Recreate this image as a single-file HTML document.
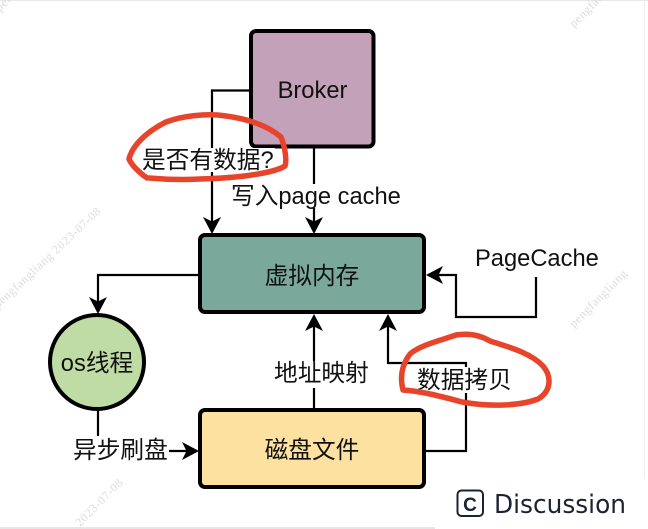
<!DOCTYPE html>
<html><head><meta charset="utf-8"><style>
html,body{margin:0;padding:0;background:#fff}
svg{display:block}
text{font-family:"Liberation Sans","Noto Sans CJK SC",sans-serif;fill:#111;font-size:23.7px}
.w{font-family:"Liberation Serif",serif;font-size:12px;fill:#dcdcdc;letter-spacing:.6px}
</style></head><body>
<svg width="648" height="529" viewBox="0 0 648 529" xmlns="http://www.w3.org/2000/svg">
<defs>
<marker id="a" markerUnits="userSpaceOnUse" markerWidth="20" markerHeight="20" refX="15" refY="9.500" orient="auto"><path d="M0 0.500L17 9.500L0 18.500L4.500 9.500Z" fill="#000"/></marker>
</defs>
<rect width="648" height="529" fill="#fff"/>
<rect x="0" y="0" width="648" height="1" fill="#e8e8e8"/>
<rect x="644" y="0" width="1" height="477" fill="#eee"/>
<rect x="0" y="527" width="435" height="2" fill="#e6e6e6"/>
<g>
<text class="w" transform="translate(0,12) rotate(-45)">pengfangliang</text>
<text class="w" transform="translate(574,28) rotate(-45)">pengfangliang</text>
<text class="w" transform="translate(-2,309) rotate(-43)">pengfangliang 2023-07-08</text>
<text class="w" transform="translate(574,328) rotate(-45)">pengfangliang</text>
<text class="w" transform="translate(80,527) rotate(-45)">2023-07-08</text>
</g>
<g fill="none" stroke="#000" stroke-width="2.200">
<path d="M250 90.500H212V232" marker-end="url(#a)"/>
<path d="M314 147V232" marker-end="url(#a)"/>
<path d="M199 275H98V312" marker-end="url(#a)"/>
<path d="M314 408V316" marker-end="url(#a)"/>
<path d="M426 451H466V363H388V316" marker-end="url(#a)"/>
<path d="M536 277V317H456V275H428" marker-end="url(#a)"/>
<path d="M98 411V451H197" marker-end="url(#a)"/>
</g>
<rect x="251" y="31" width="122.500" height="115.500" rx="5" fill="#c3a2b9" stroke="#000" stroke-width="4"/>
<rect x="200" y="235" width="224" height="77" rx="5" fill="#7aa99c" stroke="#000" stroke-width="4"/>
<rect x="200" y="410" width="224" height="77" rx="5" fill="#fce1a0" stroke="#000" stroke-width="4"/>
<circle cx="97" cy="362" r="47" fill="#c0dca5" stroke="#000" stroke-width="4"/>
<rect x="231" y="184" width="170" height="24" fill="#fff"/>
<rect x="141" y="148" width="134" height="24" fill="#fff"/>
<rect x="273" y="361" width="96" height="27" fill="#fff"/>
<rect x="72" y="436" width="97" height="27" fill="#fff"/>
<rect x="416" y="367" width="72" height="26" fill="#fff"/>
<text x="312.500" y="98" text-anchor="middle">Broker</text>
<text x="142" y="168">是否有数据?</text>
<text x="231" y="204">写入page cache</text>
<text x="312" y="284" text-anchor="middle">虚拟内存</text>
<text x="475" y="266">PageCache</text>
<text x="97" y="371" text-anchor="middle">os线程</text>
<text x="274" y="381">地址映射</text>
<text x="417" y="388">数据拷贝</text>
<text x="73" y="458">异步刷盘</text>
<text x="312" y="458" text-anchor="middle">磁盘文件</text>
<g fill="none" stroke="#e8442b" stroke-width="5.500" stroke-linecap="round" stroke-linejoin="round">
<path d="M147 178C141 174 132 166 129 159C132 146 146 132 166 122C182 116 206 113 226 116C248 119 268 126 281 137C285 147 287 160 285 166C274 173 240 178 200 179C180 180 160 179 149 178"/>
<path d="M403 390C400 378 401 366 410 354C420 345 442 340 456 335C468 333 480 335 490 341C505 346 530 352 543 366C553 378 550 392 538 399C520 406 490 407 462 402C440 396 420 391 403 390"/>
</g>
<rect x="435" y="477" width="213" height="52" fill="#fff"/>
<rect x="457.500" y="490.500" width="25.500" height="25.500" rx="4" fill="none" stroke="#1c2233" stroke-width="2"/>
<text x="470" y="511" text-anchor="middle" style="font-size:19px;font-weight:bold;fill:#1c2233">C</text>
<text x="494" y="513" style="font-size:26px;fill:#1c2233;font-family:'DejaVu Sans',sans-serif" textLength="132" lengthAdjust="spacingAndGlyphs">Discussion</text>
</svg>
</body></html>
